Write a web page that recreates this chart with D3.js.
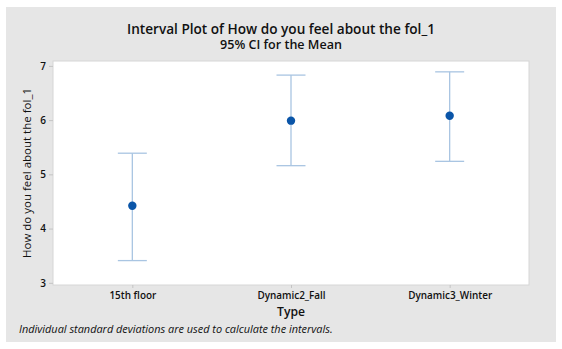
<!DOCTYPE html>
<html>
<head>
<meta charset="utf-8">
<script src="https://cdn.jsdelivr.net/npm/d3@7"></script>
<style>
  html, body { margin: 0; padding: 0; background: #ffffff; }
  svg { display: block; font-family: "Open Sans", "Noto Sans", sans-serif; }
</style>
</head>
<body>
<svg id="chart" width="562" height="349"></svg>
<script>
// ---- Data ----
const categories = ["15th floor", "Dynamic2_Fall", "Dynamic3_Winter"];
const means = [4.42, 5.99, 6.08];
const lowerCI = [3.41, 5.16, 5.24];
const upperCI = [5.39, 6.83, 6.89];
const yTicks = [3, 4, 5, 6, 7];

const titleText = "Interval Plot of How do you feel about the fol_1";
const subtitleText = "95% CI for the Mean";
const yLabelText = "How do you feel about the fol_1";
const xLabelText = "Type";
const footnoteText = "Individual standard deviations are used to calculate the intervals.";

// ---- Layout ----
const svg = d3.select("#chart");
const panel = { x: 6, y: 7, w: 550, h: 335 };
const plot = { left: 53, top: 61, right: 529, bottom: 285 };

function fitWidth(sel, target, startSize) {
  sel.style("font-size", startSize + "px");
  const w = sel.node().getComputedTextLength();
  if (w > 0) sel.style("font-size", (startSize * target / w).toFixed(2) + "px");
  return sel;
}

svg.append("rect")
  .attr("x", panel.x).attr("y", panel.y)
  .attr("width", panel.w).attr("height", panel.h)
  .attr("fill", "#e6e6e6");

svg.append("rect")
  .attr("x", plot.left).attr("y", plot.top)
  .attr("width", plot.right - plot.left).attr("height", plot.bottom - plot.top)
  .attr("fill", "#ffffff")
  .attr("stroke", "#d6d6d6").attr("stroke-width", 1);

const x = d3.scalePoint().domain(categories).range([plot.left, plot.right]).padding(0.5);
const y = d3.scaleLinear().domain([2.96, 7.09]).range([plot.bottom, plot.top]);

// Axes
const yAxis = svg.append("g")
  .attr("transform", `translate(${plot.left},0)`)
  .call(d3.axisLeft(y).tickValues(yTicks).tickSize(4).tickPadding(3).tickFormat(d3.format("d")));
yAxis.select(".domain").remove();
yAxis.selectAll(".tick line").attr("stroke", "#c4c4c4");
yAxis.selectAll(".tick text").attr("fill", "#111").style("font-size", "10px")
  .style("font-weight", "600").style("font-family", "\"Open Sans\", sans-serif");

const xAxis = svg.append("g")
  .attr("transform", `translate(0,${plot.bottom})`)
  .call(d3.axisBottom(x).tickSize(3).tickPadding(3.5));
xAxis.select(".domain").remove();
xAxis.selectAll(".tick line").attr("stroke", "#c4c4c4");
const xt = xAxis.selectAll(".tick text").attr("fill", "#111")
  .style("font-family", "\"Open Sans\", sans-serif").style("font-weight", "600");
fitWidth(xAxis.select(".tick text"), 47, 10);
xt.style("font-size", xAxis.select(".tick text").style("font-size"));

// Interval bars
const data = categories.map((c, i) => ({ c, m: means[i], lo: lowerCI[i], hi: upperCI[i] }));
const capHalf = 14.5;
const barColor = "#a9c5e2";
const g = svg.append("g");
g.selectAll(".stem").data(data).join("line")
  .attr("x1", d => x(d.c)).attr("x2", d => x(d.c))
  .attr("y1", d => y(d.lo)).attr("y2", d => y(d.hi))
  .attr("stroke", barColor).attr("stroke-width", 1.3);
g.selectAll(".capT").data(data).join("line")
  .attr("x1", d => x(d.c) - capHalf).attr("x2", d => x(d.c) + capHalf)
  .attr("y1", d => y(d.hi)).attr("y2", d => y(d.hi))
  .attr("stroke", barColor).attr("stroke-width", 1.3);
g.selectAll(".capB").data(data).join("line")
  .attr("x1", d => x(d.c) - capHalf).attr("x2", d => x(d.c) + capHalf)
  .attr("y1", d => y(d.lo)).attr("y2", d => y(d.lo))
  .attr("stroke", barColor).attr("stroke-width", 1.3);
g.selectAll(".pt").data(data).join("circle")
  .attr("cx", d => x(d.c)).attr("cy", d => y(d.m)).attr("r", 4.2)
  .attr("fill", "#0a55a8");

// Texts
const title = svg.append("text").attr("x", 281).attr("y", 33.8).attr("text-anchor", "middle")
  .attr("fill", "#111").style("font-weight", "600").text(titleText);
fitWidth(title, 308, 13);
const sub = svg.append("text").attr("x", 281).attr("y", 49.2).attr("text-anchor", "middle")
  .attr("fill", "#111").style("font-weight", "600").text(subtitleText);
fitWidth(sub, 122, 11);
const yl = svg.append("text")
  .attr("transform", `translate(31,${(plot.top + plot.bottom) / 2}) rotate(-90)`)
  .attr("text-anchor", "middle").attr("fill", "#111").style("font-weight", "400").text(yLabelText);
fitWidth(yl, 170, 11.5);
const xl = svg.append("text").attr("x", x(categories[1])).attr("y", 316).attr("text-anchor", "middle")
  .attr("fill", "#111").style("font-weight", "600").text(xLabelText);
fitWidth(xl, 28, 12.5);
const fn = svg.append("text").attr("x", 19).attr("y", 333).attr("fill", "#111")
  .style("font-style", "italic").text(footnoteText);
fitWidth(fn, 314, 10);
</script>
</body>
</html>
